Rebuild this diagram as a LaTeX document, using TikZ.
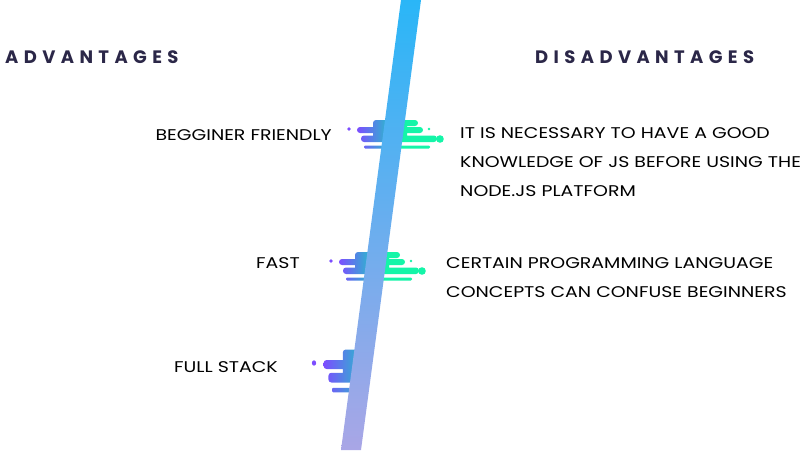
\documentclass[tikz,border=0pt]{standalone}
\usepackage{fontspec}
\newfontfamily\headfont[LetterSpace=30]{Poppins}
\newfontfamily\handfont[FakeStretch=1.22]{Poppins}
\definecolor{headnavy}{HTML}{2B2748}
\definecolor{speedpurple}{HTML}{7C4DFF}
\definecolor{speedteal}{HTML}{1ECBC4}
\definecolor{speedgreen}{HTML}{14F5A8}
\definecolor{bartop}{HTML}{2AB6F7}
\definecolor{barbottom}{HTML}{A9A6E6}
\tikzset{
	head/.style={font=\headfont\bfseries\fontsize{18}{22}\selectfont, text=headnavy, inner sep=0pt},
	hand/.style={font=\handfont\fontsize{15.5}{29}\selectfont, text=black, inner sep=0pt, align=left}
}
\newcommand\speedleft{%
	\shade[left color=speedpurple, right color=speedteal, rounded corners=3pt]
		(24,-9) rectangle (45,13) (8,-2) rectangle (30,4) (12,6.5) rectangle (30,13)
		[rounded corners=1.2pt] (15,16.5) rectangle (45,19.5);
	\fill[speedpurple] (0,0) circle (1.8);
}
\newcommand\speedright{%
	\fill[speedgreen, rounded corners=3pt]
		(42,-9) rectangle (58,13) (42,-9) rectangle (69,-3) (42,-2) rectangle (74,4) (42,6.5) rectangle (88,13)
		[rounded corners=1.2pt] (42,16.5) rectangle (81,19.5);
	\fill[speedgreen] (80,0) circle (1.3);
	\fill[speedgreen] (91,10) circle (3.8);
}

\begin{document}
\begin{tikzpicture}[x=1pt, y=-1pt]
	\useasboundingbox (0,0) rectangle (808,450);

	\node[head, anchor=base west] (adv) at (5,63) {ADVANTAGES};
	\node[head, anchor=base west] (disadv) at (535,63) {DISADVANTAGES};

	\begin{scope}[shift={(349,129)}]
		\speedleft
		\speedright
	\end{scope}
	\begin{scope}[shift={(331,261)}]
		\speedleft
		\speedright
	\end{scope}
	\begin{scope}[shift={(314,363)}, xscale=1.2, yscale=1.5]
		\speedleft
	\end{scope}

	\shade[top color=bartop, bottom color=barbottom] (401,0) -- (421,0) -- (361,450) -- (341,450) -- cycle;

	\node[hand, anchor=base east] (friendly) at (332,140) {BEGGINER FRIENDLY};
	\node[hand, anchor=base east] (fast) at (300,268) {FAST};
	\node[hand, anchor=base east] (stack) at (278,372) {FULL STACK};

	\node[hand, anchor=north west] (knowledge) at (460,127) {IT IS NECESSARY TO HAVE A GOOD\\KNOWLEDGE OF JS BEFORE USING THE\\NODE.JS PLATFORM};
	\node[hand, anchor=north west] (concepts) at (446,257) {CERTAIN PROGRAMMING LANGUAGE\\CONCEPTS CAN CONFUSE BEGINNERS};
\end{tikzpicture}
\end{document}
